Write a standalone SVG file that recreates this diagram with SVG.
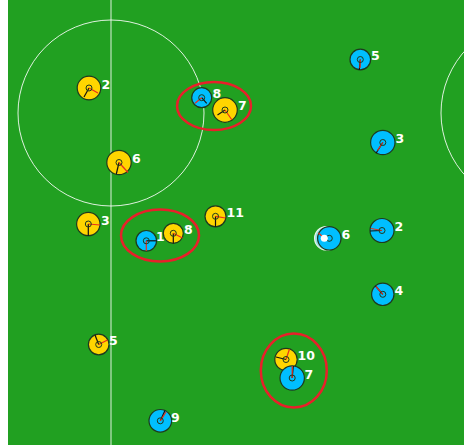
<svg xmlns="http://www.w3.org/2000/svg" width="464" height="445" viewBox="0 0 464 445">
<style>
.line{fill:none;stroke:#ffffff;stroke-width:1;opacity:0.85}
.yel{fill:#ffd500;stroke:#1e3a1e;stroke-width:1.2}
.blu{fill:#00bfff;stroke:#1e3a1e;stroke-width:1.2}
.in{fill:none;stroke:#1e3a1e;stroke-width:1}
.bk{stroke:#111111;stroke-width:1.2}
.rd{stroke:#e8301c;stroke-width:1.2}
.lbl{font-family:"DejaVu Sans",sans-serif;font-weight:bold;font-size:12.5px;fill:#ffffff}
.grp{fill:none;stroke:#e8202a;stroke-width:2.5}
</style>
<rect x="0" y="0" width="464" height="445" fill="#ffffff"/>
<rect x="8" y="0" width="456" height="445" fill="#21a021"/>
<g id="field">
<line class="line" x1="111" y1="0" x2="111" y2="445"/>
<circle class="line" cx="111" cy="113" r="93"/>
<circle class="line" cx="534" cy="113" r="93"/>
</g>
<g id="connectors"></g>
<g id="groups">
<ellipse class="grp" cx="214" cy="106" rx="37" ry="24"/>
<ellipse class="grp" cx="160" cy="235.5" rx="39" ry="26"/>
<ellipse class="grp" cx="293.8" cy="370.5" rx="33" ry="37"/>
</g>
<g id="y2"><circle class="yel" cx="89" cy="88" r="11.8"/><line class="bk" x1="89" y1="88" x2="84" y2="97"/><line class="rd" x1="89" y1="88" x2="98" y2="93"/><circle class="in" cx="89" cy="88" r="3"/><text class="lbl" x="101.5" y="88.5">2</text></g>
<g id="b8"><circle class="blu" cx="201.7" cy="97.7" r="10"/><line class="bk" x1="201.7" y1="97.7" x2="206.7" y2="103.3"/><line class="rd" x1="201.7" y1="97.7" x2="195" y2="103.3"/><circle class="in" cx="201.7" cy="97.7" r="3"/><text class="lbl" x="212.5" y="98">8</text></g>
<g id="y7"><circle class="yel" cx="225" cy="110" r="12.3"/><line class="bk" x1="225" y1="110" x2="217.5" y2="115"/><line class="rd" x1="225" y1="110" x2="232" y2="120"/><circle class="in" cx="225" cy="110" r="3"/><text class="lbl" x="238" y="110">7</text></g>
<g id="y6"><circle class="yel" cx="119" cy="162.5" r="12.2"/><line class="bk" x1="119" y1="162.5" x2="116.3" y2="174"/><line class="rd" x1="119" y1="162.5" x2="128" y2="172.5"/><circle class="in" cx="119" cy="162.5" r="3"/><text class="lbl" x="132" y="163">6</text></g>
<g id="y3"><circle class="yel" cx="88.3" cy="224" r="11.7"/><line class="bk" x1="88.3" y1="224" x2="88.3" y2="235.7"/><line class="rd" x1="88.3" y1="224" x2="100" y2="225"/><circle class="in" cx="88.3" cy="224" r="3"/><text class="lbl" x="101" y="225">3</text></g>
<g id="b11"><circle class="blu" cx="146.3" cy="240.8" r="10.3"/><line class="bk" x1="146.3" y1="240.8" x2="156.6" y2="240.8"/><line class="rd" x1="146.3" y1="240.8" x2="146.3" y2="251"/><circle class="in" cx="146.3" cy="240.8" r="3"/><text class="lbl" x="156" y="240.5">11</text></g>
<g id="y8"><circle class="yel" cx="173.3" cy="233.3" r="10"/><line class="bk" x1="173.3" y1="233.3" x2="173.3" y2="243.3"/><line class="rd" x1="173.3" y1="233.3" x2="182.5" y2="238"/><circle class="in" cx="173.3" cy="233.3" r="3"/><text class="lbl" x="184" y="234">8</text></g>
<g id="y11"><circle class="yel" cx="215.5" cy="216.3" r="10.5"/><line class="bk" x1="215.5" y1="216.3" x2="215.5" y2="226.8"/><line class="rd" x1="215.5" y1="216.3" x2="225.5" y2="218"/><circle class="in" cx="215.5" cy="216.3" r="3"/><text class="lbl" x="226.5" y="217">11</text></g>
<g id="b5"><circle class="blu" cx="360.3" cy="59.5" r="10.3"/><line class="bk" x1="360.3" y1="59.5" x2="359.3" y2="70"/><line class="rd" x1="360.3" y1="59.5" x2="360" y2="68"/><circle class="in" cx="360.3" cy="59.5" r="3"/><text class="lbl" x="371" y="60">5</text></g>
<g id="b3"><circle class="blu" cx="382.8" cy="142.5" r="12.2"/><line class="bk" x1="382.8" y1="142.5" x2="376" y2="153.2"/><line class="rd" x1="382.8" y1="142.5" x2="377.5" y2="150.5"/><circle class="in" cx="382.8" cy="142.5" r="3"/><text class="lbl" x="395.5" y="143">3</text></g>
<g id="b6"><circle cx="326.3" cy="238.3" r="11.7" fill="#9fe6ff" stroke="#ffffff" stroke-width="1.2" opacity="0.9"/><circle class="blu" cx="329.3" cy="238.3" r="11.7"/><circle class="in" cx="329.3" cy="238.3" r="3"/><line class="rd" x1="324.3" y1="238.3" x2="318.5" y2="233"/><circle cx="324.3" cy="238.3" r="3.5" fill="#ffffff"/><text class="lbl" x="341.5" y="239">6</text></g>
<g id="b2"><circle class="blu" cx="382" cy="230.5" r="12"/><line class="bk" x1="382" y1="230.5" x2="370" y2="231"/><line class="rd" x1="382" y1="230.5" x2="371" y2="228.5"/><circle class="in" cx="382" cy="230.5" r="3"/><text class="lbl" x="394.5" y="231">2</text></g>
<g id="b4"><circle class="blu" cx="382.8" cy="294.3" r="11.2"/><line class="bk" x1="382.8" y1="294.3" x2="375.5" y2="286"/><line class="rd" x1="382.8" y1="294.3" x2="376" y2="286.5"/><circle class="in" cx="382.8" cy="294.3" r="3"/><text class="lbl" x="394.5" y="295">4</text></g>
<g id="y10"><circle class="yel" cx="286" cy="359.5" r="11.2"/><line class="bk" x1="286" y1="359.5" x2="276" y2="357"/><line class="rd" x1="286" y1="359.5" x2="289.5" y2="349"/><circle class="in" cx="286" cy="359.5" r="3"/><text class="lbl" x="297.5" y="360">10</text></g>
<g id="b7"><circle class="blu" cx="292.2" cy="378" r="12.2"/><line class="bk" x1="292.2" y1="378" x2="293.3" y2="366"/><line class="rd" x1="292.2" y1="378" x2="292.2" y2="366"/><circle class="in" cx="292.2" cy="378" r="3"/><text class="lbl" x="304.5" y="378.5">7</text></g>
<g id="y5"><circle class="yel" cx="98.7" cy="344.5" r="10.3"/><line class="bk" x1="98.7" y1="344.5" x2="95" y2="335"/><line class="rd" x1="98.7" y1="344.5" x2="107.5" y2="340"/><circle class="in" cx="98.7" cy="344.5" r="3"/><text class="lbl" x="109" y="345">5</text></g>
<g id="b9"><circle class="blu" cx="160.3" cy="420.8" r="11.3"/><line class="bk" x1="160.3" y1="420.8" x2="165" y2="410.5"/><line class="rd" x1="160.3" y1="420.8" x2="166" y2="412"/><circle class="in" cx="160.3" cy="420.8" r="3"/><text class="lbl" x="171" y="421.5">9</text></g>
</svg>
